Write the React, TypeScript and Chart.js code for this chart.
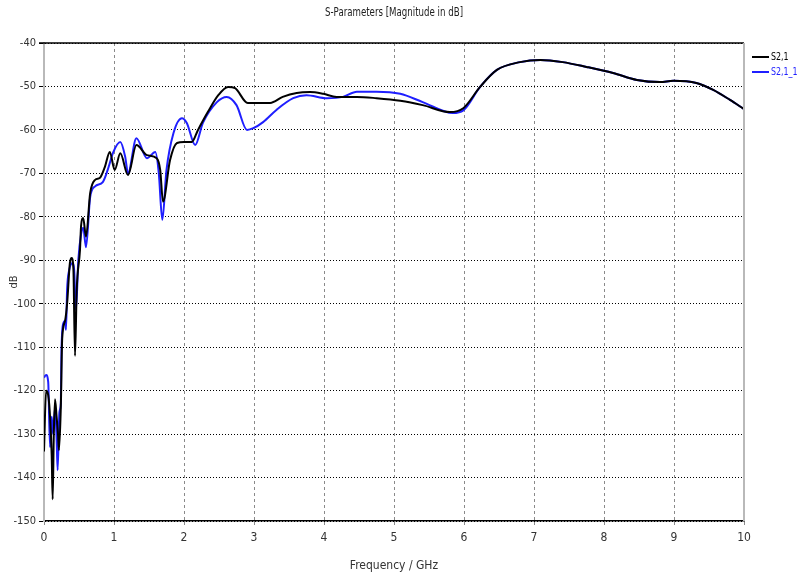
import React, { useEffect, useRef } from "react";
import { Chart, registerables } from "chart.js";

Chart.register(...registerables);

const FONT = '"Liberation Sans Narrow", "DejaVu Sans Condensed", "Arial Narrow", "DejaVu Sans", sans-serif';

const chartTitle = "S-Parameters [Magnitude in dB]";
const xAxisTitle = "Frequency / GHz";
const yAxisTitle = "dB";
const seriesNames = ["S2,1", "S2,1_1"];
const seriesColors = ["#000000", "#1f1fff"];

const xMin = 0;
const xMax = 10;
const xStep = 1;
const yMin = -150;
const yMax = -40;
const yStep = 10;

const s21Freq = [
  0, 0.03, 0.06, 0.09, 0.11, 0.124, 0.14, 0.157, 0.18, 0.2, 0.214, 0.24, 0.26, 0.3, 0.33, 0.37, 0.395,
  0.42, 0.443, 0.467, 0.514, 0.53, 0.56, 0.6, 0.66, 0.73, 0.8, 0.87, 0.94, 1.01, 1.09, 1.2, 1.32, 1.47,
  1.61, 1.66, 1.7, 1.8, 1.9, 2.0, 2.11, 2.2, 2.34, 2.49, 2.63, 2.73, 2.91, 3.09, 3.23, 3.41, 3.61, 3.8,
  3.99, 4.18, 4.47, 4.75, 5.09, 5.41, 5.8, 5.99, 6.23, 6.47, 6.8, 7.09, 7.41, 7.75, 8.13, 8.47, 8.8, 8.99,
  9.32, 9.56, 9.8, 10,
];
const s21Db = [
  -134, -120, -121, -127, -135, -145, -130, -122, -126, -130, -133.7, -124, -108, -104, -100, -90.6, -89.5,
  -92, -112, -97, -87.6, -82, -80.3, -84.6, -74.5, -71.5, -71, -68.5, -65.1, -69.2, -65.4, -70.4, -63.5, -65.8,
  -66.5, -69.2, -76.5, -67, -63, -62.8, -62.8, -60, -55.9, -52, -50.1, -50.4, -53.8, -53.8, -53.8, -52.4, -51.5, -51.3,
  -51.7, -52.4, -52.4, -52.7, -53.3, -54.3, -55.9, -55, -50.1, -46.2, -44.4, -43.9, -44.4, -45.5, -46.9, -48.5, -49, -48.7,
  -49.2, -50.8, -53.1, -55.2,
];

const s21bFreq = [
  0, 0.03, 0.06, 0.086, 0.11, 0.13, 0.157, 0.18, 0.195, 0.22, 0.24, 0.25, 0.276, 0.3, 0.314, 0.33, 0.36,
  0.41, 0.43, 0.457, 0.49, 0.53, 0.56, 0.6, 0.66, 0.73, 0.84, 0.91, 0.99, 1.09, 1.16, 1.2, 1.32, 1.47,
  1.59, 1.64, 1.69, 1.75, 1.85, 1.97, 2.04, 2.16, 2.27, 2.47, 2.61, 2.75, 2.9, 2.99, 3.13, 3.32, 3.56,
  3.75, 4.04, 4.27, 4.47, 4.75, 5.09, 5.41, 5.84, 5.99, 6.23, 6.47, 6.8, 7.09, 7.41, 7.75, 8.13, 8.47,
  8.8, 8.99, 9.32, 9.56, 9.8, 10,
];
const s21bDb = [
  -117, -116.4, -118, -133, -126, -130, -124, -131, -138.3, -125, -122.9, -110.7, -104.5, -104, -106, -96.8, -92.2,
  -90.6, -92, -101.4, -90, -84, -82.5, -87, -75.4, -73, -72, -69.2, -65.1, -62.8, -66.2, -70, -61.9, -66.5,
  -65.1, -70, -80.7, -69.2, -60.7, -57.3, -58.4, -63.5, -58.4, -53.6, -52.4, -54.3, -60, -59.6, -58.2, -55.4, -52.7,
  -52, -52.7, -52.4, -51.2, -51.2, -51.7, -53.6, -56.1, -55.5, -50.1, -46.2, -44.4, -43.9, -44.4, -45.5, -46.9, -48.5,
  -49, -48.7, -49.2, -50.8, -53.1, -55.2,
];

const toPoints = (xs: number[], ys: number[]) => xs.map((x, i) => ({ x, y: ys[i] }));

const SQUEEZE = 0.8;

function narrowText(ctx: CanvasRenderingContext2D, text: string, x: number, y: number, align: "left" | "center") {
  ctx.save();
  ctx.translate(x, y);
  ctx.scale(SQUEEZE, 1);
  ctx.textAlign = align;
  ctx.fillText(text, 0, 0);
  ctx.restore();
}

const framePlugin = {
  id: "frameAndLegend",
  afterDraw(chart: any) {
    const { ctx, chartArea: a } = chart;
    ctx.save();
    ctx.setLineDash([]);
    ctx.strokeStyle = "#000";
    ctx.lineWidth = 1.5;
    ctx.beginPath();
    ctx.moveTo(a.left - 5, a.top);
    ctx.lineTo(a.right, a.top);
    ctx.stroke();
    ctx.strokeStyle = "#b9b9b9";
    ctx.lineWidth = 2;
    ctx.beginPath();
    ctx.moveTo(a.right, a.top);
    ctx.lineTo(a.right, a.bottom);
    ctx.stroke();
    ctx.font = `12px ${FONT}`;
    ctx.fillStyle = "#222";
    ctx.textBaseline = "middle";
    narrowText(ctx, chartTitle, (a.left + a.right) / 2, 13, "center");
    ctx.font = `11px ${FONT}`;
    seriesNames.forEach((name, i) => {
      const y = a.top + 14 + i * 15;
      ctx.strokeStyle = seriesColors[i];
      ctx.lineWidth = 2;
      ctx.beginPath();
      ctx.moveTo(a.right + 8, y);
      ctx.lineTo(a.right + 25, y);
      ctx.stroke();
      ctx.fillStyle = seriesColors[i];
      narrowText(ctx, name, a.right + 27, y, "left");
    });
    ctx.restore();
  },
};

export default function App() {
  const ref = useRef<HTMLCanvasElement | null>(null);
  useEffect(() => {
    if (!ref.current) return;
    const chart = new Chart(ref.current, {
      type: "line",
      data: {
        datasets: [
          {
            label: seriesNames[0],
            data: toPoints(s21Freq, s21Db),
            borderColor: seriesColors[0],
            borderWidth: 2,
            pointRadius: 0,
            cubicInterpolationMode: "monotone",
            fill: false,
          },
          {
            label: seriesNames[1],
            data: toPoints(s21bFreq, s21bDb),
            borderColor: seriesColors[1],
            borderWidth: 2,
            pointRadius: 0,
            cubicInterpolationMode: "monotone",
            fill: false,
          },
        ],
      },
      options: {
        animation: false,
        responsive: false,
        maintainAspectRatio: false,
        layout: { padding: { top: 43, right: 55, left: 0, bottom: 0 } },
        plugins: { legend: { display: false }, title: { display: false }, tooltip: { enabled: false } },
        scales: {
          x: {
            type: "linear",
            min: xMin,
            max: xMax,
            ticks: { stepSize: xStep, color: "#333", font: { family: FONT, size: 12 }, padding: 6 },
            grid: { color: "#8a8a8a", tickLength: 4, lineWidth: 1, tickColor: "#8a8a8a" },
            border: { display: true, color: "#000", width: 1.5, dash: [3, 3] },
            title: { display: true, text: xAxisTitle, color: "#333", font: { family: FONT, size: 12 }, padding: { top: 0, bottom: 5 } },
            afterFit: (s: any) => { s.height = 57; },
          },
          y: {
            type: "linear",
            min: yMin,
            max: yMax,
            ticks: { stepSize: yStep, color: "#333", font: { family: FONT, size: 11 }, padding: 3 },
            grid: { color: "#000", tickLength: 5, lineWidth: 1, tickColor: "#000" },
            border: { display: true, color: "#b9b9b9", width: 2, dash: [1, 2] },
            title: { display: true, text: yAxisTitle, color: "#333", font: { family: FONT, size: 11 }, padding: { top: 8, bottom: 0 } },
            afterFit: (s: any) => { s.width = 44; },
          },
        },
      } as any,
      plugins: [framePlugin],
    });
    return () => chart.destroy();
  }, []);
  return (
    <div style={{ position: "fixed", left: 0, top: 0, width: 799, height: 578, background: "#fff" }}>
      <canvas ref={ref} width={799} height={578} style={{ width: 799, height: 578 }} />
    </div>
  );
}
